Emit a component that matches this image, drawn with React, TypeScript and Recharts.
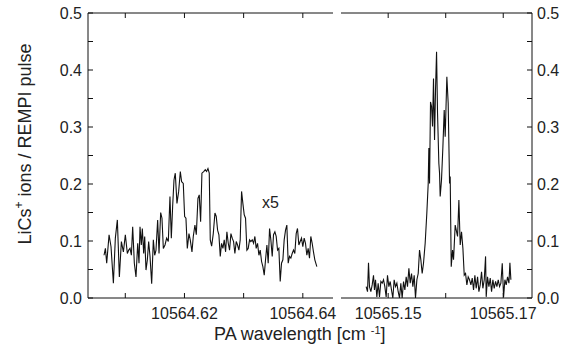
import React from 'react';
import { LineChart, Line, XAxis, YAxis } from 'recharts';

const FONT = '"Liberation Sans", Arial, Helvetica, sans-serif';

// Left panel (scaled x5) — PA wavelength [cm^-1] and LiCs+ ions / REMPI pulse
const leftWavelength = [
  10564.60641, 10564.60664, 10564.60686, 10564.60726, 10564.60759, 10564.60799, 10564.60832, 10564.60866, 10564.609, 10564.60934,
  10564.60968, 10564.61001, 10564.61035, 10564.61058, 10564.6108, 10564.61103, 10564.61125, 10564.61153, 10564.61181, 10564.6121,
  10564.61232, 10564.61249, 10564.61271, 10564.61288, 10564.61311, 10564.61328, 10564.6135, 10564.61373, 10564.61395, 10564.61418,
  10564.61446, 10564.61474, 10564.61497, 10564.61519, 10564.61547, 10564.6157, 10564.61598, 10564.6162, 10564.61643, 10564.61671,
  10564.61699, 10564.61727, 10564.61755, 10564.61778, 10564.618, 10564.61823, 10564.61845, 10564.61873, 10564.61902, 10564.6193,
  10564.61952, 10564.6198, 10564.62003, 10564.62025, 10564.62048, 10564.62076, 10564.62098, 10564.62127, 10564.62149, 10564.62177,
  10564.622, 10564.62228, 10564.6225, 10564.62273, 10564.62295, 10564.62329, 10564.62352, 10564.62374, 10564.62397, 10564.62419,
  10564.62436, 10564.62459, 10564.62487, 10564.62515, 10564.62537, 10564.6256, 10564.62582, 10564.62605, 10564.62627, 10564.6265,
  10564.62672, 10564.62695, 10564.62717, 10564.6274, 10564.62762, 10564.62785, 10564.62807, 10564.6283, 10564.62852, 10564.62875,
  10564.62897, 10564.6292, 10564.62942, 10564.62965, 10564.62987, 10564.6301, 10564.63032, 10564.63055, 10564.63077, 10564.631,
  10564.63122, 10564.63145, 10564.63168, 10564.6319, 10564.63212, 10564.63235, 10564.63258, 10564.6328, 10564.63303, 10564.63325,
  10564.63348, 10564.6337, 10564.63393, 10564.63415, 10564.63438, 10564.6346, 10564.63483, 10564.63505, 10564.63528, 10564.6355,
  10564.63573, 10564.63595, 10564.63618, 10564.6364, 10564.63663, 10564.63685, 10564.63708, 10564.6373, 10564.63753, 10564.63775,
  10564.63798, 10564.6382, 10564.63843, 10564.63865, 10564.63888, 10564.6391, 10564.63933, 10564.63955, 10564.63978, 10564.64,
  10564.64023, 10564.64045, 10564.64068, 10564.6409, 10564.64113, 10564.64135, 10564.64158, 10564.6418, 10564.64203, 10564.64237,
];
const leftSignal = [
  0.075, 0.087, 0.061, 0.111, 0.09, 0.026, 0.105, 0.137, 0.037, 0.099,
  0.081, 0.111, 0.078, 0.084, 0.087, 0.075, 0.125, 0.061, 0.037, 0.096,
  0.061, 0.125, 0.093, 0.122, 0.078, 0.108, 0.049, 0.067, 0.099, 0.073,
  0.025, 0.102, 0.075, 0.084, 0.137, 0.078, 0.15, 0.14, 0.087, 0.093,
  0.105, 0.099, 0.178, 0.105, 0.16, 0.207, 0.219, 0.166, 0.187, 0.222,
  0.204, 0.201, 0.143, 0.14, 0.087, 0.113, 0.102, 0.081, 0.108, 0.128,
  0.111, 0.175, 0.181, 0.134, 0.219, 0.222, 0.225, 0.222, 0.227, 0.219,
  0.102, 0.091, 0.113, 0.149, 0.143, 0.119, 0.111, 0.073, 0.096, 0.087,
  0.102, 0.081, 0.116, 0.096, 0.084, 0.113, 0.105, 0.099, 0.078, 0.099,
  0.093, 0.084, 0.102, 0.187, 0.166, 0.146, 0.14, 0.084, 0.087, 0.102,
  0.099, 0.102, 0.096, 0.108, 0.087, 0.096, 0.075, 0.084, 0.064, 0.055,
  0.04, 0.067, 0.093, 0.061, 0.122, 0.102, 0.073, 0.111, 0.116, 0.108,
  0.084, 0.087, 0.029, 0.061, 0.067, 0.102, 0.119, 0.128, 0.061, 0.073,
  0.07, 0.078, 0.084, 0.078, 0.113, 0.122, 0.093, 0.099, 0.105, 0.09,
  0.105, 0.096, 0.075, 0.087, 0.07, 0.108, 0.096, 0.081, 0.067, 0.055,
];

// Right panel
const rightWavelength = [
  10565.14617, 10565.14641, 10565.14658, 10565.14675, 10565.14699, 10565.14722, 10565.14745, 10565.14762, 10565.1478, 10565.14803,
  10565.14826, 10565.14849, 10565.14873, 10565.14896, 10565.14919, 10565.14942, 10565.14965, 10565.14988, 10565.15012, 10565.15035,
  10565.15058, 10565.15081, 10565.15104, 10565.15127, 10565.15151, 10565.15174, 10565.15197, 10565.1522, 10565.15243, 10565.15267,
  10565.1529, 10565.15313, 10565.15336, 10565.1536, 10565.15383, 10565.15406, 10565.15429, 10565.15452, 10565.15475, 10565.15499,
  10565.15522, 10565.15545, 10565.15568, 10565.15591, 10565.15614, 10565.15643, 10565.15672, 10565.15696, 10565.15707, 10565.15719,
  10565.15736, 10565.15754, 10565.15771, 10565.15788, 10565.15806, 10565.15823, 10565.15841, 10565.15858, 10565.15881, 10565.15893,
  10565.15904, 10565.15927, 10565.15951, 10565.15974, 10565.15991, 10565.1602, 10565.16043, 10565.16067, 10565.16078, 10565.16096,
  10565.16119, 10565.16136, 10565.16165, 10565.16183, 10565.16206, 10565.16229, 10565.16252, 10565.16275, 10565.16299, 10565.16322,
  10565.16345, 10565.16368, 10565.16391, 10565.16414, 10565.16438, 10565.16461, 10565.16484, 10565.16507, 10565.1653, 10565.16554,
  10565.16577, 10565.166, 10565.16623, 10565.16646, 10565.1667, 10565.16693, 10565.16704, 10565.16727, 10565.16751, 10565.16774,
  10565.16797, 10565.1682, 10565.16843, 10565.16867, 10565.1689, 10565.16913, 10565.16936, 10565.16959, 10565.16983, 10565.17006,
  10565.17029, 10565.17052, 10565.17075, 10565.17099, 10565.17116, 10565.17133,
];
const rightSignal = [
  0.02, 0.011, 0.062, 0.02, 0.011, 0.023, 0.04, 0.014, 0.032, 0.002,
  0.026, 0.002, 0.029, 0.026, 0.032, 0.02, 0.002, 0.04, 0.02, 0.029,
  0.014, 0.0, 0.032, 0.02, 0.026, 0.011, 0.0, 0.026, 0.0, 0.029,
  0.014, 0.037, 0.02, 0.052, 0.026, 0.043, 0.02, 0.04, 0.0, 0.032,
  0.043, 0.084, 0.067, 0.043, 0.061, 0.096, 0.149, 0.201, 0.263, 0.201,
  0.344, 0.336, 0.301, 0.385, 0.277, 0.365, 0.432, 0.324, 0.236, 0.219,
  0.178, 0.207, 0.265, 0.33, 0.283, 0.388, 0.342, 0.201, 0.213, 0.055,
  0.084, 0.067, 0.128, 0.119, 0.108, 0.172, 0.093, 0.116, 0.087, 0.04,
  0.043, 0.023, 0.037, 0.032, 0.023, 0.035, 0.014, 0.04, 0.017, 0.037,
  0.011, 0.023, 0.046, 0.017, 0.032, 0.073, 0.002, 0.037, 0.02, 0.035,
  0.011, 0.032, 0.017, 0.029, 0.02, 0.032, 0.02, 0.026, 0.061, 0.002,
  0.032, 0.023, 0.037, 0.026, 0.062, 0.032,
];

const leftDomain = [10564.6037, 10564.6451];
const rightDomain = [10565.1418, 10565.175];
const leftXTicks = [10564.61, 10564.62, 10564.63, 10564.64];
const leftXTickLabels = ['', '10564.62', '', '10564.64'];
const rightXTicks = [10565.15, 10565.16, 10565.17];
const rightXTickLabels = ['10565.15', '', '10565.17'];
const yTicks = [0, 0.05, 0.1, 0.15, 0.2, 0.25, 0.3, 0.35, 0.4, 0.45, 0.5];
const yTickLabels = ['0.0', '', '0.1', '', '0.2', '', '0.3', '', '0.4', '', '0.5'];

const leftData = leftWavelength.map((x, i) => ({ x, y: leftSignal[i] }));
const rightData = rightWavelength.map((x, i) => ({ x, y: rightSignal[i] }));

const tickStyle = { fill: '#222', fontSize: 16, fontFamily: FONT };
const axisLineStyle = { stroke: '#111', strokeWidth: 1 };
const tickLineStyle = { stroke: '#111', strokeWidth: 1 };

const fmt = (ticks: number[], labels: string[]) => (v: number) => {
  const i = ticks.indexOf(v);
  return i >= 0 ? labels[i] : '';
};

export default function App() {
  return (
    <div style={{ position: 'absolute', left: 0, top: 0, width: 563, height: 350, background: '#fff' }}>
      <div style={{ position: 'absolute', left: 0, top: 0 }}>
        <LineChart width={340} height={350} data={leftData} margin={{ top: 0, right: 7, bottom: 0, left: 0 }}>
          <XAxis
            dataKey="x"
            type="number"
            domain={leftDomain}
            allowDataOverflow
            ticks={leftXTicks}
            interval={0}
            tickFormatter={fmt(leftXTicks, leftXTickLabels)}
            height={52}
            tickSize={-5}
            tickMargin={15}
            tick={tickStyle}
            axisLine={axisLineStyle}
            tickLine={tickLineStyle}
          />
          <XAxis
            xAxisId="top"
            orientation="top"
            dataKey="x"
            type="number"
            domain={leftDomain}
            allowDataOverflow
            ticks={leftXTicks}
            interval={0}
            tickFormatter={() => ''}
            height={13}
            tickSize={-5}
            tick={tickStyle}
            axisLine={axisLineStyle}
            tickLine={tickLineStyle}
          />
          <YAxis
            type="number"
            domain={[0, 0.5]}
            allowDataOverflow
            ticks={yTicks}
            interval={0}
            tickFormatter={fmt(yTicks, yTickLabels)}
            width={88}
            tickSize={-5}
            tickMargin={11}
            tick={tickStyle}
            axisLine={axisLineStyle}
            tickLine={tickLineStyle}
          />
          <Line
            dataKey="y"
            type="linear"
            dot={false}
            activeDot={false}
            stroke="#111"
            strokeWidth={1.1}
            isAnimationActive={false}
          />
        </LineChart>
      </div>
      <div style={{ position: 'absolute', left: 333, top: 0 }}>
        <LineChart width={230} height={350} data={rightData} margin={{ top: 0, right: 0, bottom: 0, left: 8 }}>
          <XAxis
            dataKey="x"
            type="number"
            domain={rightDomain}
            allowDataOverflow
            ticks={rightXTicks}
            interval={0}
            tickFormatter={fmt(rightXTicks, rightXTickLabels)}
            height={52}
            tickSize={-5}
            tickMargin={15}
            tick={tickStyle}
            axisLine={axisLineStyle}
            tickLine={tickLineStyle}
          />
          <XAxis
            xAxisId="top"
            orientation="top"
            dataKey="x"
            type="number"
            domain={rightDomain}
            allowDataOverflow
            ticks={rightXTicks}
            interval={0}
            tickFormatter={() => ''}
            height={13}
            tickSize={-5}
            tick={tickStyle}
            axisLine={axisLineStyle}
            tickLine={tickLineStyle}
          />
          <YAxis
            orientation="right"
            type="number"
            domain={[0, 0.5]}
            allowDataOverflow
            ticks={yTicks}
            interval={0}
            tickFormatter={fmt(yTicks, yTickLabels)}
            width={31}
            tickSize={-5}
            tickMargin={10}
            tick={tickStyle}
            axisLine={axisLineStyle}
            tickLine={tickLineStyle}
          />
          <Line
            dataKey="y"
            type="linear"
            dot={false}
            activeDot={false}
            stroke="#111"
            strokeWidth={1.1}
            isAnimationActive={false}
          />
        </LineChart>
      </div>
      <svg width={563} height={350} style={{ position: 'absolute', left: 0, top: 0, pointerEvents: 'none' }}>
        <text transform="translate(31,144) rotate(-90)" textAnchor="middle" fontSize={18} fill="#222" fontFamily={FONT}>
          LiCs<tspan fontSize={12} dy={-8}>+</tspan><tspan dy={8}> ions / REMPI pulse</tspan>
        </text>
        <text x={214} y={340} fontSize={18} fill="#222" fontFamily={FONT}>
          PA wavelength [cm <tspan fontSize={11} dy={-6}>-1</tspan><tspan dy={6}>]</tspan>
        </text>
        <text x={262} y={208} fontSize={16} fill="#222" fontFamily={FONT}>x5</text>
      </svg>
    </div>
  );
}
